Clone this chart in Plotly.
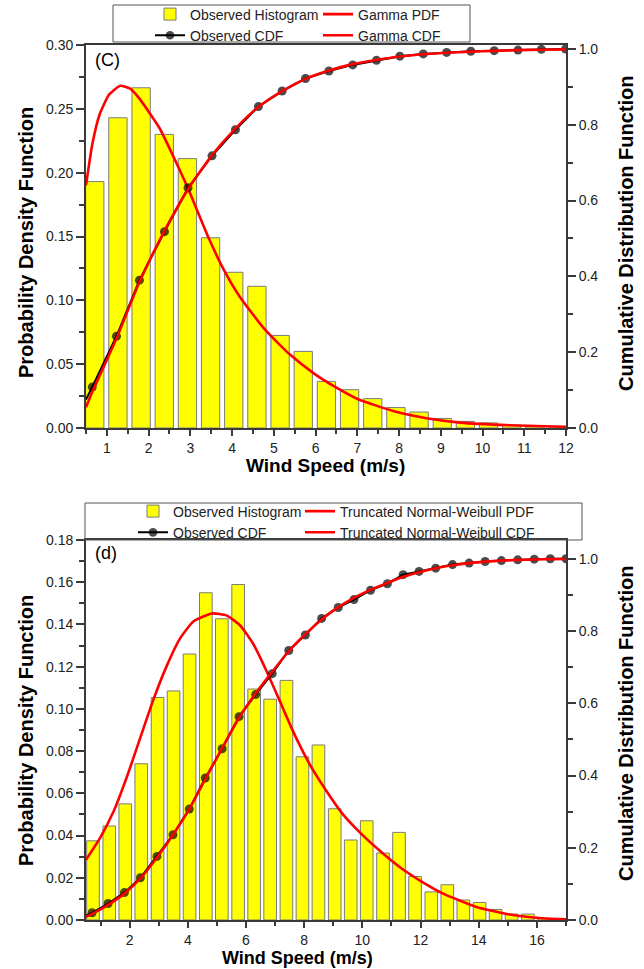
import plotly.graph_objects as go

# ---------------- data: panel (C) ----------------
top_bin_x = [0.71, 1.265, 1.82, 2.375, 2.93, 3.485, 4.04, 4.595, 5.15, 5.705, 6.26,
             6.815, 7.37, 7.925, 8.48, 9.035, 9.59, 10.145, 10.70, 11.255, 11.81]
top_hist = [0.193, 0.243, 0.2665, 0.230, 0.211, 0.149, 0.122, 0.111, 0.0725, 0.060, 0.0365,
            0.030, 0.023, 0.016, 0.0125, 0.0075, 0.0052, 0.004, 0.0023, 0.0015, 0.001]

top_cdf_x = [0.5, 0.65, 1.23, 1.78, 2.38, 2.945, 3.52, 4.08, 4.63, 5.2, 5.76, 6.32, 6.89,
             7.46, 8.02, 8.58, 9.14, 9.72, 10.28, 10.85, 11.41, 11.99]
top_cdf_obs = [0.075, 0.108, 0.242, 0.39, 0.518, 0.634, 0.718, 0.787, 0.848, 0.889, 0.922,
               0.942, 0.958, 0.970, 0.981, 0.987, 0.991, 0.994, 0.9955, 0.997, 0.999, 1.0]

top_pdf_x = [0.5, 0.65, 0.82, 1.05, 1.32, 1.55, 1.78, 2.26, 2.66, 2.94, 3.45, 3.8, 4.18,
             4.79, 5.38, 5.99, 6.5, 7.02, 7.86, 8.66, 9.46, 10.66, 12.0]
top_pdf = [0.19, 0.222, 0.245, 0.261, 0.268, 0.266, 0.258, 0.235, 0.208, 0.188, 0.148,
           0.124, 0.103, 0.077, 0.0577, 0.042, 0.0316, 0.0225, 0.0133, 0.0076, 0.0042,
           0.0021, 0.001]

top_fit_cdf_x = [0.5, 0.65, 1.23, 1.78, 2.38, 2.945, 3.52, 4.08, 4.63, 5.2, 5.76, 6.32, 6.89,
                 7.46, 8.02, 8.58, 9.14, 9.72, 10.28, 10.85, 11.41, 12.0]
top_fit_cdf = [0.055, 0.095, 0.236, 0.385, 0.52, 0.63, 0.72, 0.79, 0.847, 0.889, 0.921,
               0.943, 0.96, 0.971, 0.98, 0.986, 0.99, 0.993, 0.995, 0.997, 0.998, 0.999]

# ---------------- data: panel (d) ----------------
bot_bin_x = [0.74, 1.30, 1.85, 2.40, 2.96, 3.51, 4.06, 4.62, 5.17, 5.73, 6.28, 6.83, 7.39,
             7.94, 8.49, 9.05, 9.60, 10.15, 10.71, 11.26, 11.81, 12.37, 12.92, 13.47, 14.03,
             14.58, 15.13, 15.69, 16.24]
bot_hist = [0.0375, 0.0445, 0.055, 0.074, 0.1054, 0.1085, 0.126, 0.155, 0.1427, 0.1589,
            0.1094, 0.1046, 0.1135, 0.0773, 0.0829, 0.0527, 0.0379, 0.047, 0.0317, 0.0415,
            0.0206, 0.0133, 0.0167, 0.0095, 0.0083, 0.005, 0.0028, 0.0028, 0.0008]

bot_cdf_x = [0.5, 0.71, 1.26, 1.82, 2.37, 2.94, 3.49, 4.05, 4.6, 5.18, 5.76, 6.33, 6.9, 7.47,
             8.04, 8.6, 9.17, 9.71, 10.28, 10.86, 11.4, 11.95, 12.52, 13.1, 13.67, 14.22,
             14.78, 15.34, 15.91, 16.46, 17.0]
bot_cdf_obs = [0.012, 0.020, 0.0456, 0.0758, 0.117, 0.176, 0.236, 0.307, 0.393, 0.474, 0.563,
               0.624, 0.682, 0.746, 0.789, 0.835, 0.865, 0.887, 0.913, 0.931, 0.956, 0.965,
               0.974, 0.984, 0.988, 0.9926, 0.995, 0.997, 0.999, 1.0, 1.0]

bot_pdf_x = [0.5, 0.99, 1.45, 1.91, 2.37, 2.82, 3.28, 3.74, 4.2, 4.83, 5.34, 5.8, 6.26, 6.72,
             7.17, 7.63, 8.2, 8.77, 9.34, 9.92, 10.6, 11.29, 11.98, 12.78, 13.92, 15.06,
             16.2, 17.0]
bot_pdf = [0.0285, 0.039, 0.0515, 0.068, 0.0865, 0.1045, 0.1205, 0.1335, 0.1415, 0.1452,
           0.1442, 0.1395, 0.1305, 0.1175, 0.1035, 0.089, 0.0735, 0.061, 0.0499, 0.0414,
           0.0328, 0.025, 0.0187, 0.0125, 0.0062, 0.0026, 0.0008, 0.0003]

bot_fit_cdf_x = [0.5, 0.71, 1.26, 1.82, 2.37, 2.94, 3.49, 4.05, 4.6, 5.18, 5.76, 6.33, 6.9,
                 7.47, 8.04, 8.6, 9.17, 9.71, 10.28, 10.86, 11.4, 11.95, 12.52, 13.1, 13.67,
                 14.22, 14.78, 15.34, 15.91, 16.46, 17.0]
bot_fit_cdf = [0.009, 0.017, 0.042, 0.073, 0.115, 0.173, 0.236, 0.307, 0.39, 0.476, 0.56,
               0.627, 0.687, 0.744, 0.791, 0.832, 0.866, 0.892, 0.914, 0.933, 0.95, 0.963,
               0.974, 0.982, 0.988, 0.992, 0.995, 0.997, 0.998, 0.999, 0.9995]

# ---------------- geometry helpers ----------------
W, H = 644, 969
ML, MR, MT, MB = 86, 78, 45, 49
PW, PH = W - ML - MR, H - MT - MB


def px(xp):
    return (xp - ML) / PW


def py(yp):
    return (H - MB - yp) / PH


FONT = "Arial, Liberation Sans, sans-serif"
YEL = "#FFFF00"
RED = "#FF0000"
AX = "#3a3a3a"

fig = go.Figure()


def add_panel(xa, ya, ya2, leg_a, leg_b, bx, by, cx, cy, pdx, pdy, fcx, fcy, pdf_name, cdf_name):
    fig.add_trace(go.Bar(x=bx, y=by, xaxis=xa, yaxis=ya, name="Observed Histogram",
                         marker=dict(color=YEL, line=dict(color="#7a7a7a", width=1)),
                         legend=leg_a, legendrank=1))
    fig.add_trace(go.Scatter(x=pdx, y=pdy, xaxis=xa, yaxis=ya, mode="lines", name=pdf_name,
                             line=dict(color=RED, width=2.6, shape="spline", smoothing=0.5),
                             legend=leg_b, legendrank=1))
    sizes = [0] + [9] * (len(cx) - 1)
    fig.add_trace(go.Scatter(x=cx, y=cy, xaxis=xa, yaxis=ya2, mode="lines+markers",
                             name="Observed CDF",
                             line=dict(color="black", width=2),
                             marker=dict(color="black", size=sizes,
                                         line=dict(color="black", width=0)),
                             legend=leg_a, legendrank=2))
    fig.add_trace(go.Scatter(x=fcx, y=fcy, xaxis=xa, yaxis=ya2, mode="lines", name=cdf_name,
                             line=dict(color=RED, width=2.6, shape="spline", smoothing=0.5),
                             legend=leg_b, legendrank=2))


add_panel("x", "y", "y2", "legend", "legend2", top_bin_x, top_hist, top_cdf_x, top_cdf_obs,
          top_pdf_x, top_pdf, top_fit_cdf_x, top_fit_cdf, "Gamma PDF", "Gamma CDF")
add_panel("x2", "y3", "y4", "legend3", "legend4", bot_bin_x, bot_hist, bot_cdf_x, bot_cdf_obs,
          bot_pdf_x, bot_pdf, bot_fit_cdf_x, bot_fit_cdf,
          "Truncated Normal-Weibull PDF", "Truncated Normal-Weibull CDF")

tickfont = dict(family=FONT, size=14, color="#222")
common = dict(showline=True, linecolor=AX, linewidth=1.8, ticks="outside", ticklen=8,
              tickwidth=1.5, tickcolor=AX, tickfont=tickfont, showgrid=False,
              zeroline=False, automargin=False)
xcommon = dict(common, ticklen=6)
minor = dict(ticks="outside", ticklen=5, tickwidth=1.5, tickcolor=AX, showgrid=False)
xminor = dict(minor, ticklen=4)

top_dom = [py(428), 1.0]
bot_dom = [0.0, py(540)]


def leg(xp, yc):
    return dict(orientation="v", x=px(xp), xanchor="left", y=py(yc), yanchor="middle",
                bgcolor="rgba(0,0,0,0)", borderwidth=0, traceorder="normal",
                font=dict(family=FONT, size=14, color="#222"), itemwidth=30,
                tracegroupgap=0)


fig.update_layout(
    width=W, height=H,
    margin=dict(l=ML, r=MR, t=MT, b=MB, autoexpand=False),
    paper_bgcolor="white", plot_bgcolor="white",
    bargap=0.21,
    showlegend=True,
    xaxis=dict(domain=[0, 1], anchor="y", range=[0.5, 12], dtick=1, tick0=0,
               mirror=True, minor=dict(dtick=0.5, **xminor), **xcommon),
    yaxis=dict(domain=top_dom, anchor="x", range=[0, 0.30], dtick=0.05, tickformat=".2f",
               minor=dict(dtick=0.025, **minor), **common),
    yaxis2=dict(overlaying="y", anchor="x", side="right", range=[0, 1.0105], dtick=0.2,
                tickformat=".1f", minor=dict(dtick=0.1, **minor), **common),
    xaxis2=dict(domain=[0, 1], anchor="y3", range=[0.5, 17], dtick=2, tick0=0,
                mirror=True, minor=dict(dtick=1, **xminor), **xcommon),
    yaxis3=dict(domain=bot_dom, anchor="x2", range=[0, 0.18], dtick=0.02, tickformat=".2f",
                minor=dict(dtick=0.01, **minor), **common),
    yaxis4=dict(overlaying="y3", anchor="x2", side="right", range=[0, 1.052], dtick=0.2,
                tickformat=".1f", minor=dict(dtick=0.1, **minor), **common),
    legend=leg(150, 25),
    legend2=leg(318, 25),
    legend3=leg(133, 522),
    legend4=leg(300, 522),
)

# legend boxes
for (x0, x1, y0, y1) in [(113, 470, 5, 42), (85, 582, 503, 540)]:
    fig.add_shape(type="rect", xref="paper", yref="paper", x0=px(x0), x1=px(x1),
                  y0=py(y1), y1=py(y0), line=dict(color="#555", width=1),
                  fillcolor="rgba(0,0,0,0)", layer="above")

title_font = dict(family=FONT, size=20, color="black")
xtitle_font = dict(family=FONT, size=19, color="black")
xtitle_font_b = dict(family=FONT, size=18, color="black")
ann = [
    dict(text="<b>Probability Density Function</b>", x=px(26), y=py(243), textangle=-90,
         font=title_font, yanchor="middle"),
    dict(text="<b>Cumulative Distribution Function</b>", x=px(626), y=py(233), textangle=-90,
         font=title_font, yanchor="middle"),
    dict(text="<b>Wind Speed (m/s)</b>", x=px(325), y=py(465), font=xtitle_font,
         yanchor="middle"),
    dict(text="<b>Probability Density Function</b>", x=px(26), y=py(731), textangle=-90,
         font=title_font, yanchor="middle"),
    dict(text="<b>Cumulative Distribution Function</b>", x=px(626), y=py(723), textangle=-90,
         font=title_font, yanchor="middle"),
    dict(text="<b>Wind Speed (m/s)</b>", x=px(297), y=py(969), font=xtitle_font_b,
         yanchor="bottom"),
]
for a in ann:
    fig.add_annotation(xref="paper", yref="paper", showarrow=False, borderpad=0,
                       xanchor="center", **a)

for txt, yy in [("(C)", 60), ("(d)", 553)]:
    fig.add_annotation(xref="paper", yref="paper", showarrow=False, text=txt,
                       x=px(93), y=py(yy), xanchor="left", yanchor="middle",
                       font=dict(family=FONT, size=18, color="black"))

fig.write_html("out.html",
               config={"displayModeBar": False},
               post_script="document.body.style.margin='0px';"
                           "document.body.style.padding='0px';"
                           "document.body.style.overflow='hidden';")
